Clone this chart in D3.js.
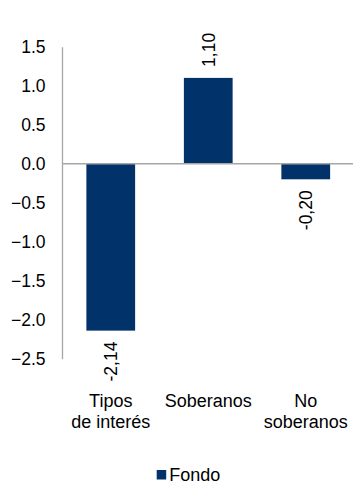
<!DOCTYPE html>
<html>
<head>
<meta charset="utf-8">
<script src="https://cdn.jsdelivr.net/npm/d3@7"></script>
<style>
  html, body { margin: 0; padding: 0; background: #ffffff; }
  svg { display: block; }
  text { font-family: Arial, "Liberation Sans", sans-serif; fill: #000000; }
</style>
</head>
<body>
<svg id="chart" width="353" height="486"></svg>
<script>
// Category labels (multi-line) and the fund's values
const categories = [["Tipos", "de interés"], ["Soberanos"], ["No", "soberanos"]];
const values = [-2.14, 1.10, -0.20];
const valueLabels = ["-2,14", "1,10", "-0,20"];
const yTicks = [1.5, 1.0, 0.5, 0.0, -0.5, -1.0, -1.5, -2.0, -2.5];
const seriesName = "Fondo";

const W = 353, H = 486;
const margin = { left: 62, right: -1.5, top: 46.7, bottom: 127.3 };
const barColor = "#02326a";
const axisColor = "#a6a6a6";
const tickFont = 17.5;
const catFont = 18;

const svg = d3.select("#chart");

const x = d3.scaleBand()
  .domain(d3.range(categories.length))
  .range([margin.left, W - margin.right])
  .paddingInner(0.5)
  .paddingOuter(0.25);

const y = d3.scaleLinear()
  .domain([-2.5, 1.5])
  .range([H - margin.bottom, margin.top]);

// Y axis: tick labels only, plus a vertical line
const yAxis = d3.axisLeft(y)
  .tickValues(yTicks)
  .tickFormat(d3.format(".1f"))
  .tickSize(0)
  .tickPadding(16.5);

const gy = svg.append("g")
  .attr("transform", `translate(${margin.left},0)`)
  .call(yAxis);
gy.select(".domain").attr("stroke", axisColor).attr("stroke-width", 1.3);
gy.selectAll("text")
  .attr("font-size", tickFont)
  .attr("font-family", "Arial, 'Liberation Sans', sans-serif")
  .attr("fill", "#000");

// Bars
svg.append("g")
  .selectAll("rect")
  .data(values)
  .join("rect")
  .attr("x", (d, i) => x(i))
  .attr("width", x.bandwidth())
  .attr("y", d => y(Math.max(0, d)))
  .attr("height", d => Math.abs(y(d) - y(0)))
  .attr("fill", barColor);

// Zero line across the plot
svg.append("line")
  .attr("x1", margin.left)
  .attr("x2", W)
  .attr("y1", y(0))
  .attr("y2", y(0))
  .attr("stroke", axisColor)
  .attr("stroke-width", 1.5);

// Value labels, rotated, outside each bar end
svg.append("g")
  .selectAll("text")
  .data(values)
  .join("text")
  .attr("transform", (d, i) => {
    const cx = x(i) + x.bandwidth() / 2;
    const cy = d >= 0 ? y(d) - 11 : y(d) + 11;
    return `translate(${cx + 6.5},${cy}) rotate(-90)`;
  })
  .attr("text-anchor", d => d >= 0 ? "start" : "end")
  .attr("font-size", tickFont)
  .text((d, i) => valueLabels[i]);

// Category labels below the plot
const catG = svg.append("g");
categories.forEach((lines, i) => {
  const t = catG.append("text")
    .attr("x", x(i) + x.bandwidth() / 2)
    .attr("y", 407)
    .attr("text-anchor", "middle")
    .attr("font-size", catFont);
  lines.forEach((ln, j) => {
    t.append("tspan")
      .attr("x", x(i) + x.bandwidth() / 2)
      .attr("dy", j === 0 ? 0 : 20.5)
      .text(ln);
  });
});

// Legend
const legend = svg.append("g").attr("transform", "translate(156.7,470)");
legend.append("rect")
  .attr("width", 9.5).attr("height", 9.5)
  .attr("fill", barColor);
legend.append("text")
  .attr("x", 12.5).attr("y", 10.5)
  .attr("font-size", catFont)
  .text(seriesName);
</script>
</body>
</html>
